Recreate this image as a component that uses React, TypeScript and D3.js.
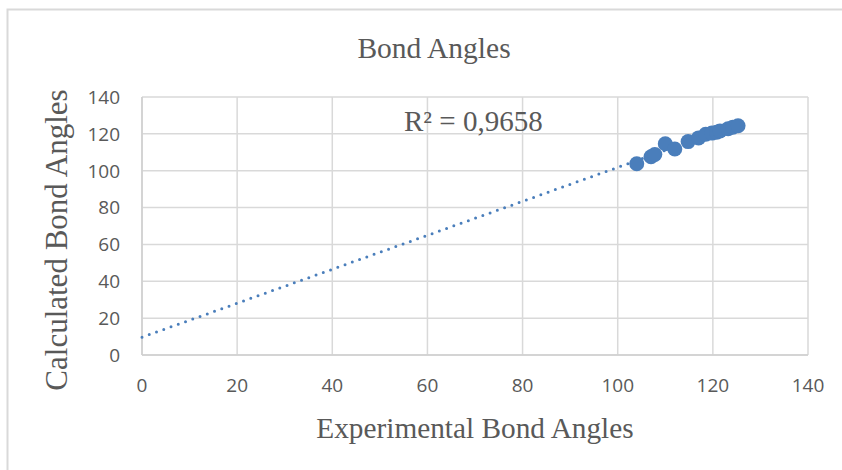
import React from "react";
import * as d3 from "d3";

// Experimental vs calculated bond angles (degrees)
const experimental = [104.0, 107.0, 107.8, 110.0, 112.0, 114.8, 117.0, 118.5, 119.8, 120.8, 121.5, 123.2, 124.2, 125.3];
const calculated = [103.8, 107.6, 108.8, 114.6, 111.8, 115.8, 117.8, 119.8, 120.4, 120.9, 121.6, 122.8, 123.6, 124.4];
const xTicks = [0, 20, 40, 60, 80, 100, 120, 140];
const yTicks = [0, 20, 40, 60, 80, 100, 120, 140];
const rSquaredLabel = "R² = 0,9658";

const W = 842;
const H = 470;
const BLUE = "#4a7ebb";
const GRID = "#d9d9d9";
const TEXT = "#595959";

export default function App() {
  const x = d3.scaleLinear().domain([0, 140]).range([142, 808]);
  const y = d3.scaleLinear().domain([0, 140]).range([355, 97]);

  const pts = experimental.map((e, i) => ({ e, c: calculated[i] }));

  // least-squares linear trendline, extended back to x = 0
  const mx = d3.mean(experimental)!;
  const my = d3.mean(calculated)!;
  const sxy = d3.sum(pts, (p) => (p.e - mx) * (p.c - my));
  const sxx = d3.sum(pts, (p) => (p.e - mx) ** 2);
  const slope = sxy / sxx;
  const intercept = my - slope * mx;
  const xMax = d3.max(experimental)!;
  const trend = d3.line<number>()
    .x((v) => x(v))
    .y((v) => y(intercept + slope * v))([0, xMax]);

  return (
    <svg width={W} height={H} style={{ position: "absolute", left: 0, top: 0, background: "#fff" }}>
      {/* chart frame */}
      <rect x={7.5} y={9.5} width={W} height={H} fill="#fff" stroke={GRID} strokeWidth={2} />

      <text x={434} y={58} textAnchor="middle" fontFamily="'Liberation Serif', serif" fontSize={29.5} fill={TEXT}>
        Bond Angles
      </text>

      {/* gridlines */}
      {yTicks.map((t) => (
        <line key={"gy" + t} x1={x(0)} x2={x(140)} y1={y(t)} y2={y(t)} stroke={GRID} strokeWidth={1.5} />
      ))}
      {xTicks.map((t) => (
        <line key={"gx" + t} x1={x(t)} x2={x(t)} y1={y(0)} y2={y(140)} stroke={GRID} strokeWidth={1.5} />
      ))}
      <line x1={x(0)} x2={x(140)} y1={y(0)} y2={y(0)} stroke="#cfcfcf" strokeWidth={1.5} />
      <line x1={x(0)} x2={x(0)} y1={y(0)} y2={y(140)} stroke="#cfcfcf" strokeWidth={1.5} />

      {/* tick labels */}
      {yTicks.map((t) => (
        <text key={"ly" + t} x={120} y={y(t)} dy="0.36em" textAnchor="end" fontFamily="'Open Sans', sans-serif" fontSize={19} fill={TEXT}>
          {t}
        </text>
      ))}
      {xTicks.map((t) => (
        <text key={"lx" + t} x={x(t)} y={385} dy="0.36em" textAnchor="middle" fontFamily="'Open Sans', sans-serif" fontSize={19} fill={TEXT}>
          {t}
        </text>
      ))}

      {/* trendline */}
      <path d={trend!} fill="none" stroke={BLUE} strokeWidth={3} strokeLinecap="round" strokeDasharray="0 7.7" />

      {/* data points */}
      {pts.map((p, i) => (
        <circle key={i} cx={x(p.e)} cy={y(p.c)} r={7.5} fill={BLUE} />
      ))}

      <text x={404} y={131} fontFamily="'Liberation Serif', serif" fontSize={29} fill={TEXT}>
        {rSquaredLabel}
      </text>

      {/* axis titles */}
      <text x={475} y={438} textAnchor="middle" fontFamily="'Liberation Serif', serif" fontSize={29.3} fill={TEXT}>
        Experimental Bond Angles
      </text>
      <text transform="translate(67,240) rotate(-90)" textAnchor="middle" fontFamily="'Liberation Serif', serif" fontSize={31} fill={TEXT}>
        Calculated Bond Angles
      </text>
    </svg>
  );
}
